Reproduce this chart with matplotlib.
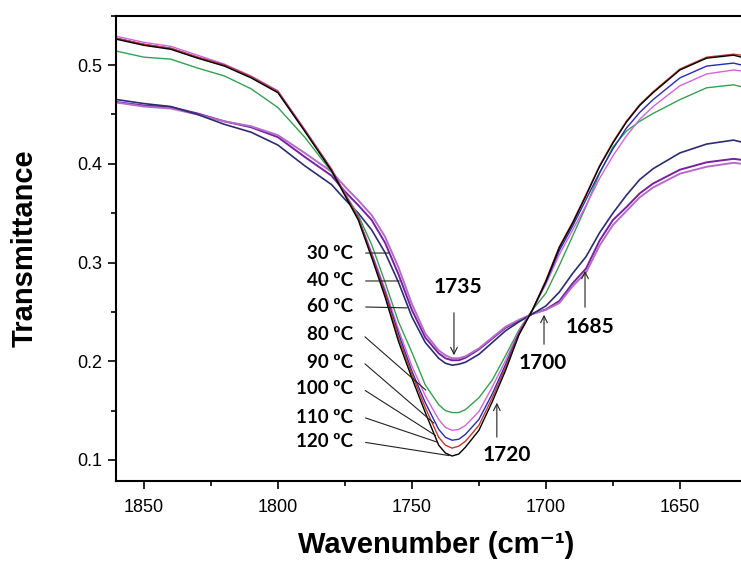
import matplotlib
matplotlib.use("Agg")
import matplotlib.pyplot as plt
from matplotlib.ticker import MultipleLocator

# wavenumber grid (cm-1) and transmittance
wavenumber = [1860, 1850, 1840, 1830, 1820, 1810, 1800, 1790, 1780, 1775, 1770, 1765,
              1760, 1755, 1750, 1745, 1740, 1737.5, 1735, 1732.5, 1730, 1725, 1720, 1715,
              1710, 1705, 1700, 1695, 1690, 1685, 1680, 1675, 1670, 1665, 1660, 1650,
              1640, 1630, 1627]

t30 = [.4625, .459, .4575, .451, .443, .437, .427, .407, .388, .372, .358, .343,
       .320, .288, .252, .224, .208, .203, .201, .201, .2035, .212, .223, .234,
       .241, .248, .2525, .261, .279, .294, .322, .343, .356, .370, .380, .394,
       .4015, .405, .404]
t40 = [.462, .458, .456, .450, .443, .438, .429, .411, .392, .377, .363, .348,
       .326, .295, .258, .228, .211, .206, .203, .203, .205, .213, .224, .235,
       .242, .248, .252, .259, .276, .290, .317, .338, .352, .366, .376, .390,
       .397, .401, .400]
t60 = [.465, .461, .458, .450, .440, .432, .419, .398, .379, .364, .350, .333,
       .310, .280, .245, .219, .203, .198, .196, .197, .199, .207, .219, .231,
       .240, .248, .256, .270, .289, .306, .330, .350, .368, .384, .395, .411,
       .420, .424, .422]
t80 = [.514, .508, .506, .497, .489, .476, .457, .427, .392, .370, .348, .318,
       .280, .240, .209, .176, .156, .150, .148, .148, .151, .163, .181, .206,
       .232, .252, .269, .297, .327, .357, .390, .417, .433, .443, .451, .465,
       .477, .480, .478]
t90 = [.529, .523, .519, .510, .501, .489, .474, .435, .395, .370, .346, .310,
       .273, .232, .195, .165, .141, .133, .130, .131, .135, .149, .174, .201,
       .231, .252, .278, .308, .333, .358, .385, .408, .428, .445, .458, .479,
       .491, .495, .494]
t100 = [.527, .521, .517, .508, .500, .488, .473, .434, .394, .369, .345, .308,
        .270, .228, .190, .158, .131, .123, .120, .121, .126, .141, .167, .197,
        .229, .252, .280, .312, .337, .364, .391, .415, .436, .452, .465, .487,
        .499, .502, .500]
t110 = [.527, .521, .517, .508, .500, .488, .473, .434, .394, .369, .345, .307,
        .268, .224, .187, .153, .123, .115, .112, .114, .119, .135, .163, .194,
        .228, .252, .282, .316, .341, .369, .398, .422, .443, .460, .473, .496,
        .508, .511, .510]
t120 = [.526, .520, .516, .507, .499, .487, .472, .433, .393, .368, .343, .305,
        .265, .220, .183, .148, .115, .107, .104, .106, .113, .130, .159, .191,
        .227, .252, .281, .315, .340, .368, .397, .421, .442, .459, .472, .495,
        .507, .510, .508]

temps = ["30", "40", "60", "80", "90", "100", "110", "120"]
spectra = [t30, t40, t60, t80, t90, t100, t110, t120]
colors = ["#7a1fa2", "#b46cc8", "#2c2c70", "#35a050", "#d264d8", "#2a2ab0", "#c0392b", "#000000"]
widths = [1.4, 1.4, 1.2, 1.0, 1.0, 1.0, 1.0, 1.0]

fig = plt.figure(figsize=(7.41, 5.68), dpi=100)
ax = fig.add_axes([116 / 741, 87.3 / 568, 625 / 741, 465 / 568])

for t, c, lw in zip(spectra, colors, widths):
    ax.plot(wavenumber, t, color=c, lw=lw)

ax.set_xlim(1860.4, 1627.2)
ax.set_ylim(0.079, 0.550)
ax.xaxis.set_major_locator(MultipleLocator(50))
ax.xaxis.set_minor_locator(MultipleLocator(25))
ax.yaxis.set_major_locator(MultipleLocator(0.1))
ax.yaxis.set_minor_locator(MultipleLocator(0.05))
ax.tick_params(which="major", length=6, width=1.2, labelsize=13)
ax.tick_params(which="minor", length=3.5, width=1.2)
ax.tick_params(axis="x", pad=7)
ax.tick_params(axis="y", pad=4)
for lab in ax.get_xticklabels() + ax.get_yticklabels():
    lab.set_fontfamily("Liberation Sans")
for s in ["left", "bottom", "top"]:
    ax.spines[s].set_linewidth(1.5)
ax.spines["right"].set_visible(False)

ax.set_ylabel("Transmittance", fontsize=21, fontweight="bold", family="Liberation Sans")
ax.yaxis.set_label_coords(-0.123, 0.5)
ax.set_xlabel("Wavenumber (cm\u207b\u00b9)", fontsize=21, fontweight="bold",
              family=["Liberation Sans", "DejaVu Sans"])
ax.xaxis.set_label_coords(0.512, -0.108)

# temperature labels with leader lines
label_y = [0.3096, 0.2813, 0.2550, 0.2266, 0.1992, 0.1719, 0.1435, 0.1182]
leader_end = [(1757.5, 0.3096), (1753.7, 0.2813), (1750.7, 0.2540), (1744.0, 0.1689),
              (1741.0, 0.1354), (1740.3, 0.1233), (1739.6, 0.1172), (1735.1, 0.1040)]
for tp, ly, end in zip(temps, label_y, leader_end):
    ax.text(1772, ly, tp + " ºC", ha="right", va="center", fontsize=13.5,
            fontweight="bold", family="Lato")
    ax.annotate("", xy=end, xytext=(1768.3, ly),
                arrowprops=dict(arrowstyle="-", color="#222222", lw=0.8))

# band positions
bands = [("1735", (1732.8, 0.2752), (1734.3, 0.2519), (1734.3, 0.2033)),
         ("1720", (1714.5, 0.1050), (1718.3, 0.1203), (1718.3, 0.1608)),
         ("1700", (1701.1, 0.1982), (1700.7, 0.2144), (1700.7, 0.2499)),
         ("1685", (1683.6, 0.2347), (1685.4, 0.2519), (1685.4, 0.2944))]
for txt, pos, tail, head in bands:
    ax.text(pos[0], pos[1], txt, ha="center", va="center", fontsize=15,
            fontweight="bold", family="Lato")
    ax.annotate("", xy=head, xytext=tail,
                arrowprops=dict(arrowstyle="->", color="#222222", lw=0.8,
                                mutation_scale=12))

fig.savefig("out.png", dpi=100)
